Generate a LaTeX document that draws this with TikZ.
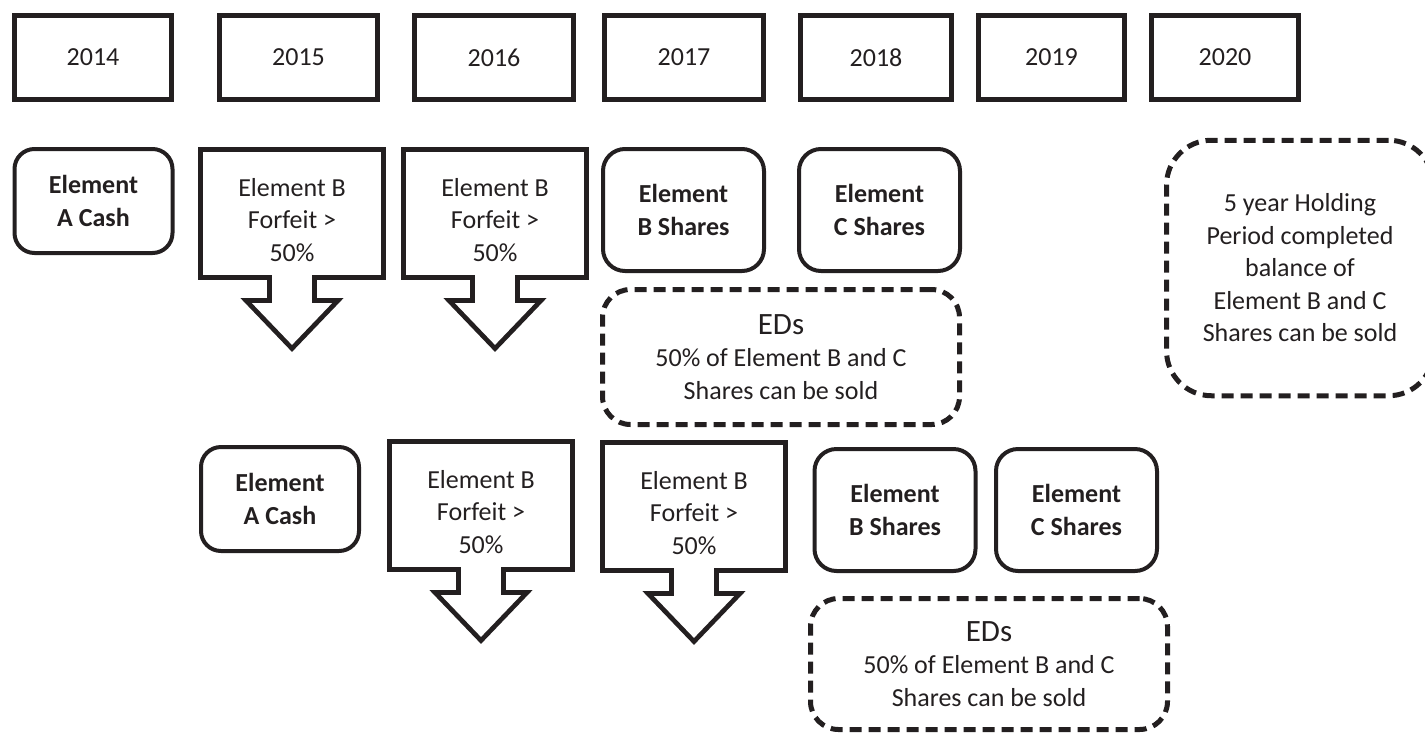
\documentclass[tikz,border=0pt]{standalone}
\usepackage{fontspec}
\setmainfont{Carlito}
\definecolor{ink}{HTML}{231F20}

% callout: name, centre x, top y
\newcommand{\forfeit}[3]{%
\draw[forfeitline] (#2-91.5,#3+2.5) -- (#2+91.5,#3+2.5) -- (#2+91.5,#3+130.5) -- (#2+22.5,#3+130.5)
  -- (#2+22.5,#3+153.5) -- (#2+46,#3+153.5) -- (#2,#3+201.5) -- (#2-46,#3+153.5)
  -- (#2-22.5,#3+153.5) -- (#2-22.5,#3+130.5) -- (#2-91.5,#3+130.5) -- cycle;
\node[forfeittext] (#1) at (#2,#3+73) {Element B\\Forfeit >\\50\%};
}

\begin{document}
\begin{tikzpicture}[x=1pt,y=-1pt,ink,
  every node/.style={font=\fontsize{26}{32.5}\selectfont, align=center, text=ink},
  yearbox/.style={draw, line width=5pt, minimum height=84pt, inner sep=0pt},
  cashbox/.style={draw, line width=4pt, rounded corners=20pt, minimum width=158pt, minimum height=104pt, font=\bfseries\fontsize{26}{32.5}\selectfont},
  sharebox/.style={draw, line width=4pt, rounded corners=22pt, minimum width=161pt, minimum height=122pt, font=\bfseries\fontsize{26}{32.5}\selectfont},
  edbox/.style={draw, line width=5pt, dash pattern=on 12pt off 7pt, rounded corners=28pt, minimum width=357pt, inner sep=0pt},
  forfeitline/.style={line width=4.7pt, line join=miter},
  forfeittext/.style={inner sep=0pt}]
\useasboundingbox (0,0) rectangle (1425,732);

%years
\foreach \yr/\cx/\w in {2014/93/157, 2015/298.5/158, 2016/494/159, 2017/684/159, 2018/876/151, 2019/1051.5/146, 2020/1225/147}
  \node[yearbox, minimum width=\w] (y\yr) at (\cx,57.5) {\yr};

%first row
\node[cashbox] (cashA) at (93.5,201) {Element\\A Cash};
\forfeit{forfA}{292}{147}
\forfeit{forfB}{495}{147}
\node[sharebox] (sharesBA) at (683.5,210) {Element\\B Shares};
\node[sharebox] (sharesCA) at (879.5,210) {Element\\C Shares};
\node[edbox, minimum height=135pt] (edsA) at (781,357) {{\fontsize{31}{38}\selectfont EDs}\\50\% of Element B and C\\Shares can be sold};

%holding period
\node[edbox, minimum width=267pt, minimum height=255.5pt, rounded corners=45pt] (hold) at (1300,268)
  {5 year Holding\\Period completed\\balance of\\Element B and C\\Shares can be sold};

%second row
\node[cashbox] (cashB) at (280,499) {Element\\A Cash};
\forfeit{forfC}{481}{439}
\forfeit{forfD}{694}{440}
\node[sharebox] (sharesBB) at (895,510) {Element\\B Shares};
\node[sharebox] (sharesCB) at (1076.5,510) {Element\\C Shares};
\node[edbox, minimum height=131pt] (edsB) at (989,664) {{\fontsize{31}{38}\selectfont EDs}\\50\% of Element B and C\\Shares can be sold};
\end{tikzpicture}
\end{document}
